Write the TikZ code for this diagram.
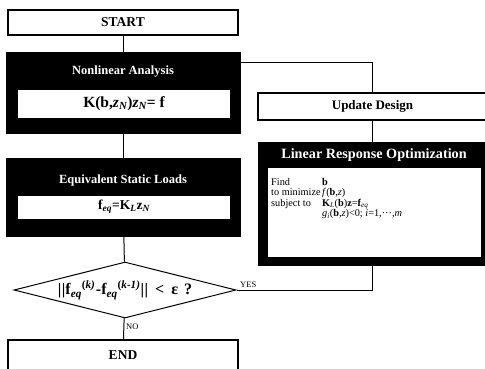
\documentclass[tikz,border=0pt]{standalone}
\usepackage{fontspec}
\setmainfont{Liberation Serif}
\usetikzlibrary{shapes.geometric}
\newcommand\fsz[1]{\fontsize{#1}{#1}\selectfont}
\begin{document}
\begin{tikzpicture}[x=1pt,y=-1pt,
  plainbox/.style={draw=black, line width=1.3pt, fill=white, inner sep=0pt, font=\bfseries\fsz{13.5}},
  blackbox/.style={draw=black, line width=1pt, fill=black, inner sep=0pt},
  whitebox/.style={fill=white, inner sep=0pt, font=\bfseries},
  titletext/.style={text=white, inner sep=0pt, font=\bfseries\fsz{12.5}},
  conn/.style={draw=black, line width=1pt},
  lbl/.style={inner sep=1pt, font=\fsz{8.5}},
  lrotext/.style={inner sep=0pt, anchor=north west}]
\useasboundingbox (0,0) rectangle (485,368);
\clip (0,0) rectangle (485,368);
\fill[white] (0,0) rectangle (485,368);

% left column
\node[plainbox, minimum width=230, minimum height=25] (start) at (123,22.5) {START};
\node[blackbox, minimum width=234, minimum height=81] (nl) at (123,92.5) {};
\node[titletext] (nlt) at (123,72) {Nonlinear Analysis};
\node[whitebox, minimum width=212, minimum height=28, font=\bfseries\fsz{15.5}] (nlf) at (124,104)
  {K(b,\textit{z}\textsubscript{\itshape N})\textit{z}\textsubscript{\itshape N}= f};

\node[blackbox, minimum width=234, minimum height=78] (esl) at (123,197) {};
\node[titletext] (eslt) at (123,180) {Equivalent Static Loads};
\node[whitebox, minimum width=212, minimum height=23, font=\bfseries\fsz{13.5}] (eslf) at (124,207)
  {f\textsubscript{\itshape eq}=K\textsubscript{\itshape L}z\textsubscript{\itshape N}};

\node[diamond, draw=black, line width=1pt, aspect=3.96, inner sep=0pt,
      minimum width=222, minimum height=56, font=\bfseries\fsz{16}] (dia) at (125,290)
  {|\kern0.6pt|f\textsubscript{\itshape eq}\textsuperscript{(\itshape k)}\kern0.5pt-f\textsubscript{\itshape eq}\textsuperscript{(\itshape k-1)}|\kern0.6pt|\hspace{7pt}<\hspace{7pt}ε\hspace{6pt}?};

\node[plainbox, minimum width=230, minimum height=30] (end) at (123,355) {END};

% right column
\node[plainbox, minimum width=229, minimum height=27, font=\bfseries\fsz{13}] (upd) at (372.5,106.5) {Update Design};
\node[blackbox, minimum width=229, minimum height=123] (lro) at (372.5,203.5) {};
\node[titletext, font=\bfseries\fsz{14.2}] (lrot) at (374,155) {Linear Response Optimization};
\node[whitebox, minimum width=213, minimum height=89] (lrow) at (374.5,212.5) {};

\node[lrotext] (lrotxt) at (271,178.5) {\fontsize{10.3}{9.5}\selectfont
  \begin{tabular}{@{}p{51pt}@{}l@{}}
  Find & \textbf{b}\\
  to minimize & \textit{f}(\textbf{b},\textit{z})\\
  subject to & \textbf{K}\textsubscript{\itshape L}(\textbf{b})\textbf{z}=\textbf{f}\textsubscript{\itshape eq}\\[0.5pt]
   & \textit{g}\textsubscript{\itshape i}(\textbf{b},\textit{z})<0; \textit{i}=1,···,\textit{m}
  \end{tabular}};

% connectors
\draw[conn] (start) -- (nl);
\draw[conn] (nl) -- (esl);
\draw[conn] (esl) -- (dia);
\draw[conn] (dia) -- (end);
\node[lbl, anchor=west] (no) at (125,327) {NO};
\draw[conn] ([yshift=-11pt]nl.north east) -| (upd.north);
\draw[conn] (upd) -- (lro);
\draw[conn] (lro.south) |- (dia.east);
\node[lbl, anchor=south west] (yes) at (239,289) {YES};
\end{tikzpicture}
\end{document}
